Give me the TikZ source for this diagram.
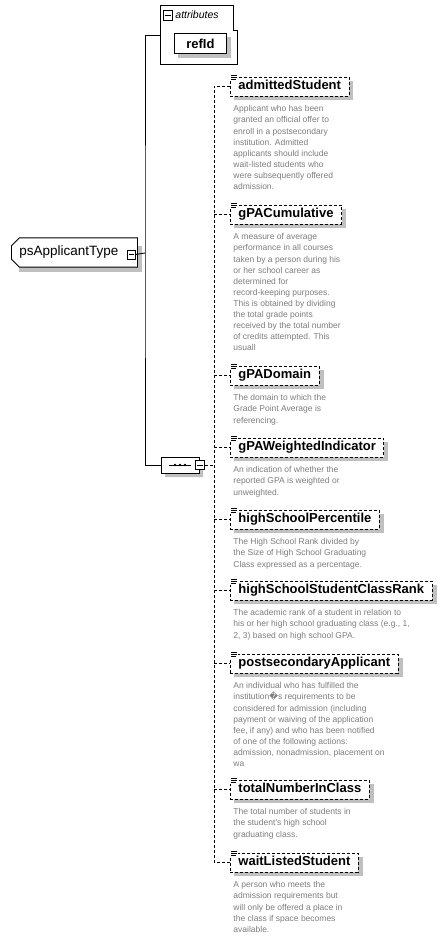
\documentclass[tikz,border=0pt]{standalone}
\usepackage{fontspec}
\setmainfont{Liberation Sans}
\newfontfamily\replfont{DejaVu Sans}
\usetikzlibrary{positioning,shapes.misc,backgrounds}
\definecolor{DescClr}{RGB}{125,125,125}
\definecolor{ShadowClr}{RGB}{192,192,192}

\tikzset{
  elem/.style={draw,dash pattern=on 3pt off 2pt,fill=white,anchor=north west,
    minimum height=19pt,inner xsep=8pt,inner ysep=0pt,text height=9.5pt,text depth=2.8pt,
    font=\fontsize{13}{15}\selectfont\bfseries},
  desc/.style={text=DescClr,align=left,inner sep=0pt,font=\fontsize{8.5}{11.1}\selectfont},
  minusbox/.style={draw,fill=white,inner sep=0pt,minimum width=8pt,minimum height=9pt,
    path picture={\draw ([xshift=1.5pt]path picture bounding box.west) -- ([xshift=-1.5pt]path picture bounding box.east);}},
  conn/.style={dash pattern=on 3pt off 2pt},
  seqshape/.style={chamfered rectangle,chamfered rectangle xsep=5pt,chamfered rectangle ysep=5pt,
    minimum width=38pt,minimum height=16pt,inner sep=0pt},
  docicon/.pic={
    \fill[white] (-0.5,-2.5) rectangle (7.5,4.5);
    \draw[line width=.7pt] (1,-1.5) -- (7,-1.5) (1,0.5) -- (7,0.5) (1,2.5) -- (6,2.5);
  }
}

\begin{document}
\begin{tikzpicture}[x=1pt,y=-1pt,line width=0.9pt]
\useasboundingbox (0,0) rectangle (445,938);

% complex type
\node[chamfered rectangle,chamfered rectangle corners={north west,south west},
  chamfered rectangle xsep=3pt,chamfered rectangle ysep=5pt,draw,fill=white,
  anchor=west,text width=110pt,align=left,inner xsep=5pt,minimum height=19pt,
  font=\fontsize{13.5}{15}\selectfont] (psApplicantType) at (11,252.5) {psApplicantType};
\node[minusbox] (psMinus) at (131,254.5) {};

% attributes
\draw (160,5) -- (233,5) -- (233,30) -- (237,30) -- (237,64) -- (160,64) -- cycle;
\coordinate (attrsW) at (160,35);
\node[minusbox,minimum width=9pt,minimum height=10pt] (attrMinus) at (167.5,15) {};
\node[anchor=west,inner sep=0pt,font=\fontsize{10.5}{12}\selectfont\itshape] (attrLabel) at (175,15) {attributes};
\node[draw,fill=white,anchor=north west,minimum width=52pt,minimum height=20pt,inner sep=0pt,
  font=\fontsize{13}{15}\selectfont\bfseries] (refId) at (174,33) {refId};

% sequence
\node[seqshape,draw,fill=white] (seq) at (180,465) {};
\draw ([xshift=-11pt]seq.center) -- ([xshift=11pt]seq.center);
\foreach \dx in {-5,0,5}
  \fill ([xshift=\dx pt]seq.center) circle (1.4pt);
\node[minusbox,minimum width=9pt,minimum height=9pt] (seqMinus) at (200,465) {};

\coordinate (trunk) at (145,253);
\draw (attrsW) -| (trunk) |- (seq.west);
\draw (psMinus.east) -- (trunk);

% elements
\node[elem] (admittedStudent) at (230,76.5) {admittedStudent};
\node[elem] (gPACumulative) at (230,204.5) {gPACumulative};
\node[elem] (gPADomain) at (230,365.5) {gPADomain};
\node[elem] (gPAWeightedIndicator) at (230,437.5) {gPAWeightedIndicator};
\node[elem] (highSchoolPercentile) at (230,509.5) {highSchoolPercentile};
\node[elem] (highSchoolStudentClassRank) at (230,580.5) {highSchoolStudentClassRank};
\node[elem] (postsecondaryApplicant) at (230,653.5) {postsecondaryApplicant};
\node[elem] (totalNumberInClass) at (230,779.5) {totalNumberInClass};
\node[elem] (waitListedStudent) at (230,852.5) {waitListedStudent};

\foreach \el in {admittedStudent,gPACumulative,gPADomain,gPAWeightedIndicator,highSchoolPercentile,
  highSchoolStudentClassRank,postsecondaryApplicant,totalNumberInClass,waitListedStudent}
  \pic at (\el.north west) {docicon};

% shadows
\begin{scope}[on background layer]
  \foreach \el in {admittedStudent,gPACumulative,gPADomain,gPAWeightedIndicator,highSchoolPercentile,
    highSchoolStudentClassRank,postsecondaryApplicant,totalNumberInClass,waitListedStudent,refId,psApplicantType}
    \fill[ShadowClr] ([shift={(4,4)}]\el.north west) rectangle ([shift={(4,4)}]\el.south east);
  \node[seqshape,fill=ShadowClr] at ([shift={(4,4)}]seq.center) {};
\end{scope}

% documentation
\node[desc,below right=8.8pt and 3pt of admittedStudent.south west] (admittedStudentDoc)
  {Applicant who has been\\granted an official offer to\\enroll in a postsecondary\\institution. Admitted\\applicants should include\\wait-listed students who\\were subsequently offered\\admission.};
\node[desc,below right=8.8pt and 3pt of gPACumulative.south west] (gPACumulativeDoc)
  {A measure of average\\performance in all courses\\taken by a person during his\\or her school career as\\determined for\\record-keeping purposes.\\This is obtained by dividing\\the total grade points\\received by the total number\\of credits attempted. This\\usuall};
\node[desc,below right=8.8pt and 3pt of gPADomain.south west] (gPADomainDoc)
  {The domain to which the\\Grade Point Average is\\referencing.};
\node[desc,below right=8.8pt and 3pt of gPAWeightedIndicator.south west] (gPAWeightedIndicatorDoc)
  {An indication of whether the\\reported GPA is weighted or\\unweighted.};
\node[desc,below right=8.8pt and 3pt of highSchoolPercentile.south west] (highSchoolPercentileDoc)
  {The High School Rank divided by\\the Size of High School Graduating\\Class expressed as a percentage.};
\node[desc,below right=8.8pt and 3pt of highSchoolStudentClassRank.south west] (highSchoolStudentClassRankDoc)
  {The academic rank of a student in relation to\\his or her high school graduating class (e.g., 1,\\2, 3) based on high school GPA.};
\node[desc,below right=8.8pt and 3pt of postsecondaryApplicant.south west] (postsecondaryApplicantDoc)
  {An individual who has fulfilled the\\institution{\replfont\symbol{"FFFD}}s requirements to be\\considered for admission (including\\payment or waiving of the application\\fee, if any) and who has been notified\\of one of the following actions:\\admission, nonadmission, placement on\\wa};
\node[desc,below right=8.8pt and 3pt of totalNumberInClass.south west] (totalNumberInClassDoc)
  {The total number of students in\\the student's high school\\graduating class.};
\node[desc,below right=8.8pt and 3pt of waitListedStudent.south west] (waitListedStudentDoc)
  {A person who meets the\\admission requirements but\\will only be offered a place in\\the class if space becomes\\available.};

% connectors
\coordinate (spine) at (214,465);
\draw[conn] (admittedStudent.west) -| (spine) |- (waitListedStudent.west);
\foreach \el in {gPACumulative,gPADomain,gPAWeightedIndicator,highSchoolPercentile,
  highSchoolStudentClassRank,postsecondaryApplicant,totalNumberInClass}
  \draw[conn] (spine |- \el.west) -- (\el.west);
\draw[conn] (seqMinus.east) -- (spine);

\end{tikzpicture}
\end{document}
